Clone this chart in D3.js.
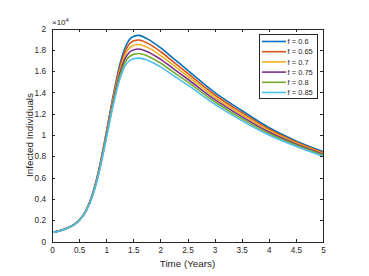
<!doctype html>
<html>
<head>
<meta charset="utf-8">
<script src="https://d3js.org/d3.v7.min.js"></script>
<style>
  body { margin: 0; background: #fff; }
  text { font-family: "Liberation Sans", Arial, sans-serif; fill: #262626; }
  .axis path, .axis line { stroke: #262626; shape-rendering: crispEdges; }
</style>
</head>
<body>
<div id="chart"></div>
<script>
// time points (years)
var years = [0, 0.25, 0.5, 0.625, 0.75, 0.875, 1.0, 1.125, 1.25, 1.375, 1.5, 1.6, 1.75, 2.0, 2.25, 2.5, 3.0, 3.5, 4.0, 4.5, 5.0];

// infected individuals (x10^4) for each f
var f060 = [0.085, 0.120, 0.200, 0.290, 0.450, 0.700, 1.020, 1.360, 1.660, 1.850, 1.925, 1.935, 1.905, 1.820, 1.715, 1.610, 1.400, 1.230, 1.070, 0.945, 0.845];
var f065 = [0.085, 0.120, 0.199, 0.288, 0.446, 0.692, 1.008, 1.342, 1.632, 1.814, 1.883, 1.892, 1.865, 1.784, 1.683, 1.582, 1.378, 1.211, 1.056, 0.935, 0.836];
var f070 = [0.085, 0.119, 0.198, 0.286, 0.442, 0.684, 0.996, 1.324, 1.604, 1.778, 1.841, 1.850, 1.825, 1.748, 1.651, 1.554, 1.356, 1.192, 1.042, 0.925, 0.827];
var f075 = [0.085, 0.119, 0.197, 0.284, 0.438, 0.676, 0.984, 1.306, 1.576, 1.742, 1.799, 1.807, 1.785, 1.712, 1.619, 1.526, 1.334, 1.173, 1.028, 0.915, 0.818];
var f080 = [0.085, 0.118, 0.196, 0.282, 0.434, 0.668, 0.972, 1.288, 1.548, 1.706, 1.757, 1.765, 1.745, 1.676, 1.587, 1.498, 1.312, 1.154, 1.014, 0.905, 0.809];
var f085 = [0.085, 0.118, 0.195, 0.280, 0.430, 0.660, 0.960, 1.270, 1.520, 1.670, 1.715, 1.722, 1.705, 1.640, 1.555, 1.470, 1.290, 1.135, 1.000, 0.895, 0.800];

var seriesNames = ["f = 0.6", "f = 0.65", "f = 0.7", "f = 0.75", "f = 0.8", "f = 0.85"];
var seriesValues = [f060, f065, f070, f075, f080, f085];
var colors = ["#0072BD", "#D95319", "#EDB120", "#7E2F8E", "#77AC30", "#4DBEEE"];

var xTicks = [0, 0.5, 1, 1.5, 2, 2.5, 3, 3.5, 4, 4.5, 5];
var yTicks = [0, 0.2, 0.4, 0.6, 0.8, 1, 1.2, 1.4, 1.6, 1.8, 2];

var W = 369, H = 276;
var margin = {top: 28.5, right: 46, bottom: 34.5, left: 52};
var width = W - margin.left - margin.right,
    height = H - margin.top - margin.bottom;

var svg = d3.select("#chart").append("svg")
    .attr("width", W).attr("height", H);
var g = svg.append("g")
    .attr("transform", "translate(" + margin.left + "," + margin.top + ")");

var x = d3.scaleLinear().domain([0, 5]).range([0, width]);
var y = d3.scaleLinear().domain([0, 2]).range([height, 0]);

// lines
var line = d3.line()
    .x(function(d, i) { return x(years[i]); })
    .y(function(d) { return y(d); })
    .curve(d3.curveMonotoneX);

seriesValues.forEach(function(vals, k) {
  g.append("path")
    .attr("d", line(vals))
    .attr("fill", "none")
    .attr("stroke", colors[k])
    .attr("stroke-width", 1.6);
});

// axes (ticks inside, MATLAB box style)
var tl = 3;
g.append("g").attr("class", "axis")
    .attr("transform", "translate(0," + height + ")")
    .call(d3.axisBottom(x).tickValues(xTicks).tickSize(-tl).tickPadding(6)
      .tickFormat(function(d) { return d; }));
g.append("g").attr("class", "axis")
    .call(d3.axisTop(x).tickValues(xTicks).tickSize(-tl).tickFormat(""));
g.append("g").attr("class", "axis")
    .call(d3.axisLeft(y).tickValues(yTicks).tickSize(-tl).tickPadding(6)
      .tickFormat(function(d) { return d; }));
g.append("g").attr("class", "axis")
    .attr("transform", "translate(" + width + ",0)")
    .call(d3.axisRight(y).tickValues(yTicks).tickSize(-tl).tickFormat(""));
g.selectAll(".axis text").style("font-size", "8.2px").attr("fill", "#262626");

// exponent label
var ex = g.append("text").attr("x", 0).attr("y", -4).style("font-size", "8px");
ex.append("tspan").text("\u00d710");
ex.append("tspan").attr("dy", -3).style("font-size", "6px").text("4");

// axis titles
g.append("text")
  .attr("x", width / 2).attr("y", height + 25)
  .attr("text-anchor", "middle")
  .style("font-size", "9.8px")
  .text("Time (Years)");
g.append("text")
  .attr("transform", "rotate(-90)")
  .attr("x", -height / 2).attr("y", -19.5)
  .attr("text-anchor", "middle")
  .style("font-size", "9.8px")
  .text("Infected Individuals");

// legend
var lg = g.append("g").attr("transform", "translate(" + (259 - margin.left) + "," + (34 - margin.top) + ")");
lg.append("rect").attr("x", 0.5).attr("y", 0.5).attr("width", 58).attr("height", 64)
  .attr("fill", "#fff").attr("stroke", "#262626").attr("stroke-width", 1);
seriesNames.forEach(function(name, k) {
  var yy = 7.5 + k * 10.2;
  lg.append("line").attr("x1", 3).attr("x2", 27).attr("y1", yy).attr("y2", yy)
    .attr("stroke", colors[k]).attr("stroke-width", 1.6);
  lg.append("text").attr("x", 28.5).attr("y", yy).attr("dy", "0.35em")
    .style("font-size", "7.5px").text(name);
});
</script>
</body>
</html>
